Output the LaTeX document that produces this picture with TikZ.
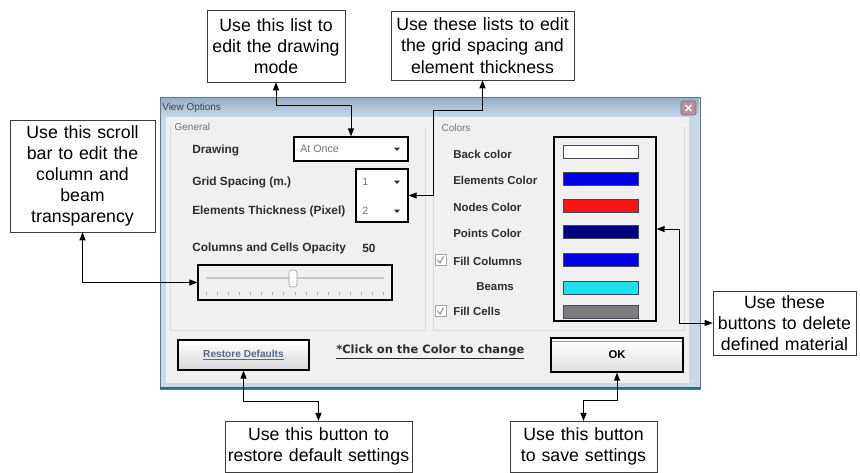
\documentclass[tikz,border=0pt]{standalone}
\usepackage{fontspec}
\setmainfont{Liberation Sans}
\newfontfamily\widefont{DejaVu Sans}
\usetikzlibrary{arrows.meta}

\definecolor{winFrame}{RGB}{96,118,140}
\definecolor{winBorder}{RGB}{200,218,234}
\definecolor{winBody}{RGB}{240,240,240}
\definecolor{dlgText}{RGB}{45,45,45}
\definecolor{grpText}{RGB}{115,115,115}
\definecolor{elemBlue}{RGB}{0,0,225}
\definecolor{nodeRed}{RGB}{250,20,20}
\definecolor{pointNavy}{RGB}{0,0,128}
\definecolor{beamCyan}{RGB}{30,225,240}
\definecolor{cellGray}{RGB}{125,125,125}

\tikzset{
  note/.style={draw={rgb,255:red,60;green,60;blue,60}, fill=white, align=center, inner sep=0pt,
    font=\fontsize{13.3}{15.9}\selectfont},
  conn/.style={draw=black, line width=0.75pt,
    {Triangle[length=6pt,width=4.5pt]}-{Triangle[length=6pt,width=4.5pt]}},
  target/.style={draw=black, line width=0.9pt, inner sep=0pt},
  lbl/.style={anchor=west, inner sep=0pt, text=dlgText, font=\fontsize{8.9}{10}\selectfont\bfseries},
  clbl/.style={lbl, font=\fontsize{8.6}{10}\selectfont\bfseries},
  grp/.style={anchor=west, inner sep=0pt, text=grpText, font=\fontsize{7.5}{9}\selectfont},
  val/.style={anchor=west, inner sep=0pt, text=grpText, font=\fontsize{8}{9}\selectfont},
  swatch/.style={draw={rgb,255:red,70;green,70;blue,90}, line width=0.6pt},
  chk/.style={draw=gray!70, fill=white, line width=0.5pt}
}

\begin{document}
\begin{tikzpicture}[x=0.75pt,y=0.75pt,yscale=-1,xscale=1]
\useasboundingbox (0,0) rectangle (860,472);

%Shape: Window frame
\draw [draw=winFrame, fill=winBorder] (160,97) rectangle (700,389);
%Shape: Title bar
\shade [top color={rgb,255:red,150;green,175;blue,202}, bottom color={rgb,255:red,200;green,216;blue,232}] (161,98) rectangle (699,117);
%Shape: Client area
\fill [winBody] (166,117) rectangle (689,383);
%Straight Lines: bottom edge
\draw [color={rgb,255:red,55;green,105;blue,125}, line width=1.5] (160,388) -- (700,388);
%Shape: Close button
\draw [fill={rgb,255:red,180;green,145;blue,158}, draw={rgb,255:red,130;green,100;blue,112}, rounded corners=1.5] (681,101) rectangle (696,115);
\draw [white, line width=1] (685.5,105) -- (691.5,111) (691.5,105) -- (685.5,111);

% Text Node
\node [anchor=west, inner sep=0pt, text={rgb,255:red,55;green,70;blue,95}, font=\fontsize{7.5}{9}\selectfont] (title) at (162,108) {View Options};

%Shape: Group frames
\draw [color={rgb,255:red,218;green,218;blue,218}] (170,127) -- (170,330) -- (425,330) -- (425,127);
\draw [color={rgb,255:red,218;green,218;blue,218}] (433,127) -- (433,330) -- (684,330) -- (684,127);
\node [grp, fill=winBody, inner xsep=1pt] (general) at (173,127) {General};
\node [grp, fill=winBody, inner xsep=1pt] (colorsGrp) at (440,128) {Colors};

% Text Node
\node [lbl] (drawLbl) at (192,150) {Drawing};
\node [lbl] (gridLbl) at (192,182) {Grid Spacing (m.)};
\node [lbl] (thickLbl) at (192,211) {Elements Thickness (Pixel)};
\node [lbl] (opacLbl) at (192,248) {Columns and Cells Opacity};
\node [lbl] (opacVal) at (362,248) {50};

%Shape: Drawing list
\node [target, fill=white, minimum width=85.5pt, minimum height=18pt] (combo) at (351,149) {};
\node [val] (comboVal) at (300,149) {At Once};
\fill [dlgText] (394,147.5) -- (400,147.5) -- (397,151) -- cycle;

%Shape: Grid and thickness lists
\node [target, fill=white, minimum width=39pt, minimum height=39.75pt] (gridbox) at (382,195.5) {};
\node [val] (gridVal) at (362,182) {1};
\node [val] (thickVal) at (362,211) {2};
\fill [dlgText] (394,180.5) -- (400,180.5) -- (397,184) -- cycle;
\fill [dlgText] (394,209.5) -- (400,209.5) -- (397,213) -- cycle;

%Shape: Opacity slider
\node [target, minimum width=145.5pt, minimum height=26.25pt] (slider) at (295,282.5) {};
\draw [color={rgb,255:red,200;green,200;blue,200}, line width=1.5] (206,278) -- (384,278);
\foreach \i in {0,...,16} {
  \draw [color={rgb,255:red,175;green,175;blue,175}] (206+\i*11.1,292) -- (206+\i*11.1,295);
}
\draw [fill=white, draw=gray!80, rounded corners=2] (289,270) rectangle (297,287);

%Shape: Restore Defaults button
\node [target, top color=white, bottom color={rgb,255:red,215;green,215;blue,215}, minimum width=98.25pt, minimum height=22.5pt,
  text={rgb,255:red,85;green,105;blue,140}, font=\fontsize{7.6}{9}\selectfont\bfseries] (restore) at (243.5,355) {\underline{Restore Defaults}};

% Text Node
\node [lbl, font=\widefont\fontsize{8.6}{10}\selectfont\bfseries] (clickNote) at (336,352) {\underline{*Click on the Color to change}};

%Shape: OK button
\node [target, line width=1.1pt, top color=white, bottom color={rgb,255:red,225;green,225;blue,225}, minimum width=99pt, minimum height=25.5pt,
  font=\fontsize{8.5}{10}\selectfont\bfseries] (okbtn) at (617,355) {OK};
\draw [color={rgb,255:red,150;green,150;blue,150}] (552,341) -- (682,341);

%Shape: Colour buttons
\node [target, minimum width=76.5pt, minimum height=138pt] (colors) at (605,229) {};
\foreach \y/\c in {152/white,179/elemBlue,205.5/nodeRed,232/pointNavy,260/elemBlue,287.5/beamCyan,311.5/cellGray} {
  \draw [swatch, fill=\c] (563,\y-6.5) rectangle (638,\y+6.5);
}
\node [clbl] (backLbl) at (453,154) {Back color};
\node [clbl] (elemLbl) at (453,180) {Elements Color};
\node [clbl] (nodeLbl) at (453,207) {Nodes Color};
\node [clbl] (pointLbl) at (453,233) {Points Color};
\node [clbl] (fillColLbl) at (453,261) {Fill Columns};
\node [clbl] (beamLbl) at (476,287) {Beams};
\node [clbl] (fillCellLbl) at (453,311) {Fill Cells};
\foreach \y in {260,311} {
  \draw [chk] (435,\y-5.5) rectangle (446,\y+5.5);
  \draw [color=gray!80, line width=0.9] (437.5,\y) -- (440,\y+3) -- (443.5,\y-3.5);
}

% Callouts
\node [note, text width=97.5pt, minimum width=103.5pt, minimum height=54pt] (listNote) at (276,46) {Use this list to\\edit the drawing\\mode};
\node [note, text width=131pt, minimum width=137.25pt, minimum height=51.75pt] (gridNote) at (482.5,45.5) {Use these lists to edit\\the grid spacing and\\element thickness};
\node [note, text width=103pt, minimum width=108.75pt, minimum height=84pt] (scrollNote) at (82.5,176) {Use this scroll\\bar to edit the\\column and\\beam\\transparency};
\node [note, text width=140pt, minimum width=140.25pt, minimum height=38pt] (restoreNote) at (318.5,446.5) {Use this button to\\restore default settings};
\node [note, text width=104pt, minimum width=110.25pt, minimum height=38pt] (saveNote) at (583.5,446.5) {Use this button\\to save settings};
\node [note, text width=102pt, minimum width=107.25pt, minimum height=48pt] (deleteNote) at (784.5,323) {Use these\\buttons to delete\\defined material};

% Connectors
\draw [conn] (listNote.south) -- ++(0,23) -| (combo.north);
\draw [conn] (gridNote.south) -- ++(0,30) -- ++(-49.5,0) |- (gridbox.east);
\draw [conn] (scrollNote.south) |- (slider.west);
\draw [conn] (restore.south) -- ++(0,31) -| (restoreNote.north);
\draw [conn] (okbtn.south) -- ++(0,28) -| (saveNote.north);
\draw [conn] (colors.east) -- ++(23,0) |- (deleteNote.west);

\end{tikzpicture}
\end{document}
